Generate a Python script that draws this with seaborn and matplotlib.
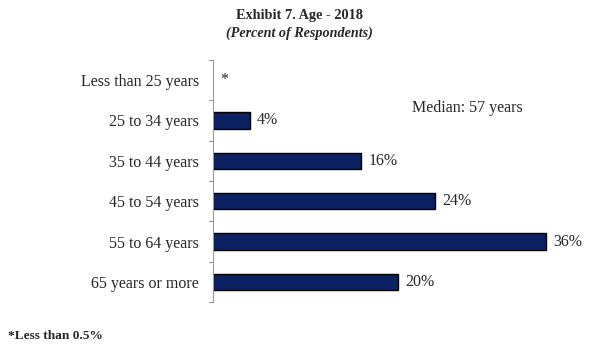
import matplotlib
matplotlib.use('Agg')
import matplotlib.pyplot as plt
import seaborn as sns
import pandas as pd

# Data
age_groups = ['Less than 25 years', '25 to 34 years', '35 to 44 years',
              '45 to 54 years', '55 to 64 years', '65 years or more']
percents = [0, 4, 16, 24, 36, 20]
bar_labels = ['*', '4%', '16%', '24%', '36%', '20%']

df = pd.DataFrame({'age': age_groups, 'pct': percents})

sns.set_style('white')
plt.rcParams['font.family'] = ['Liberation Serif', 'DejaVu Serif']

fig = plt.figure(figsize=(5.96, 3.57), dpi=100)
ax = fig.add_axes([0.357, 0.154, 0.621, 0.678])

sns.barplot(data=df, x='pct', y='age', orient='h', color='#0b2161',
            edgecolor='black', linewidth=1, width=0.4, saturation=1, ax=ax)

# the "<0.5%" bar is not drawn at all
for p in ax.patches:
    if p.get_width() == 0:
        p.set_visible(False)

ax.set_xlim(0, 40)
ax.set_ylim(5.5, -0.5)
ax.set_xlabel('')
ax.set_ylabel('')
ax.set_xticks([])

# category labels + boundary ticks
ax.set_yticks(range(len(age_groups)))
ax.set_yticklabels(age_groups, fontsize=11.5)
ax.tick_params(axis='y', length=0, pad=10)
for b in [i - 0.5 for i in range(len(age_groups) + 1)]:
    ax.plot([-0.45, 0], [b, b], color='#999999', lw=0.8, clip_on=False)

for s in ['top', 'right', 'bottom']:
    ax.spines[s].set_visible(False)
ax.spines['left'].set_color('#999999')
ax.spines['left'].set_linewidth(0.8)

for i, (v, lab) in enumerate(zip(percents, bar_labels)):
    ax.text(v + 0.8, i, lab, va='center', ha='left', fontsize=11.5)

ax.text(21.5, 0.68, 'Median: 57 years', fontsize=11.5, va='center')

fig.text(0.503, 0.957, 'Exhibit 7. Age - 2018', ha='center', va='center',
         fontsize=10.3, fontweight='bold')
fig.text(0.503, 0.907, '(Percent of Respondents)', ha='center', va='center',
         fontsize=10.2, fontweight='bold', fontstyle='italic')
fig.text(0.013, 0.058, '*Less than 0.5%', ha='left', va='center',
         fontsize=9.6, fontweight='bold')

fig.savefig('out.png', dpi=100)
